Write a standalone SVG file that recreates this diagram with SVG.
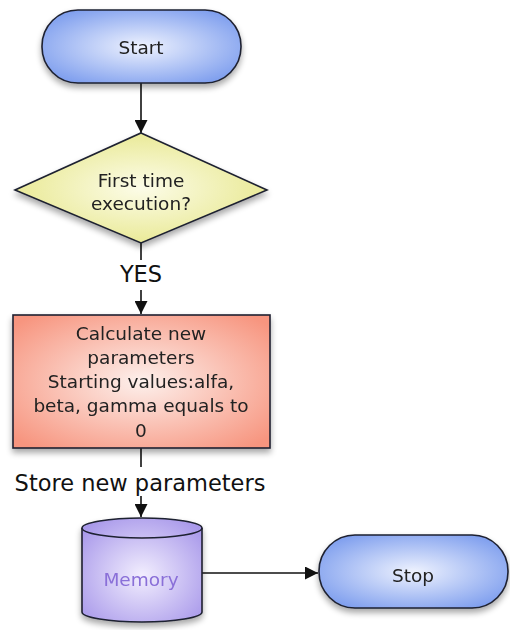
<svg xmlns="http://www.w3.org/2000/svg" width="510" height="630" viewBox="0 0 510 630">
<defs>
<radialGradient id="gBlue" cx="50%" cy="50%" r="60%">
<stop offset="0" stop-color="#eef2fe"/><stop offset="1" stop-color="#7e9eee"/>
</radialGradient>
<radialGradient id="gYel" cx="50%" cy="50%" r="55%">
<stop offset="0" stop-color="#fcfce8"/><stop offset="1" stop-color="#e8e890"/>
</radialGradient>
<radialGradient id="gRed" cx="50%" cy="50%" r="65%">
<stop offset="0" stop-color="#fdf0ec"/><stop offset="1" stop-color="#f7957f"/>
</radialGradient>
<radialGradient id="gPur" cx="50%" cy="55%" r="65%">
<stop offset="0" stop-color="#f2eefe"/><stop offset="1" stop-color="#a898ea"/>
</radialGradient>
<filter id="sh" x="-20%" y="-20%" width="140%" height="150%">
<feGaussianBlur in="SourceAlpha" stdDeviation="3"/>
<feOffset dx="0" dy="4" result="b"/>
<feComponentTransfer><feFuncA type="linear" slope="0.35"/></feComponentTransfer>
<feMerge><feMergeNode/><feMergeNode in="SourceGraphic"/></feMerge>
</filter>
<marker id="arr" viewBox="0 0 10 10" refX="10" refY="5" markerWidth="14" markerHeight="13" markerUnits="userSpaceOnUse" orient="auto">
<path d="M0,0 L10,5 L0,10 z" fill="#111"/>
</marker>
<style>
.s{stroke:#1e2030;stroke-width:1.6}
.t{font-family:"DejaVu Sans",Verdana,sans-serif;font-size:18.5px;fill:#222;text-anchor:middle}
.l{font-family:"DejaVu Sans",Verdana,sans-serif;font-size:22.5px;fill:#111;text-anchor:middle}
.c{stroke:#111;stroke-width:1.6;fill:none}
</style>
</defs>

<g id="connectors">
<line class="c" x1="141" y1="83" x2="141" y2="133" marker-end="url(#arr)"/>
<line class="c" x1="141" y1="243" x2="141" y2="260"/>
<line class="c" x1="141" y1="290" x2="141" y2="314" marker-end="url(#arr)"/>
<line class="c" x1="141" y1="448" x2="141" y2="467"/>
<line class="c" x1="141" y1="496" x2="141" y2="517" marker-end="url(#arr)"/>
<line class="c" x1="202" y1="573" x2="318" y2="573" marker-end="url(#arr)"/>
</g>

<g id="yes-label"><text class="l" x="141" y="282">YES</text></g>
<g id="store-label"><text class="l" x="140" y="491">Store new parameters</text></g>

<g id="start" filter="url(#sh)">
<rect class="s" x="42" y="10" width="199" height="73" rx="36" ry="36" fill="url(#gBlue)"/>
<text class="t" x="141" y="54">Start</text>
</g>

<g id="decision" filter="url(#sh)">
<polygon class="s" points="141,133 267,190 141,243 15,190" fill="url(#gYel)"/>
<text class="t" x="141" y="187">First time</text>
<text class="t" x="141" y="210">execution?</text>
</g>

<g id="calculate" filter="url(#sh)">
<rect class="s" x="13" y="315" width="257" height="133" fill="url(#gRed)"/>
<text class="t" x="141" y="340">Calculate new</text>
<text class="t" x="141" y="364">parameters</text>
<text class="t" x="141" y="388">Starting values:alfa,</text>
<text class="t" x="141" y="412">beta, gamma equals to</text>
<text class="t" x="141" y="437">0</text>
</g>

<g id="memory" filter="url(#sh)">
<path class="s" d="M82,528 L82,612 A60,10 0 0 0 202,612 L202,528 A60,10 0 0 0 82,528 Z" fill="url(#gPur)"/>
<path class="s" d="M82,528 A60,10 0 0 0 202,528" fill="none"/>
<text class="t" x="141" y="586" style="fill:#8a6fd8">Memory</text>
</g>

<g id="stop" filter="url(#sh)">
<rect class="s" x="319" y="535" width="189" height="73" rx="36" ry="36" fill="url(#gBlue)"/>
<text class="t" x="413" y="582">Stop</text>
</g>
</svg>
